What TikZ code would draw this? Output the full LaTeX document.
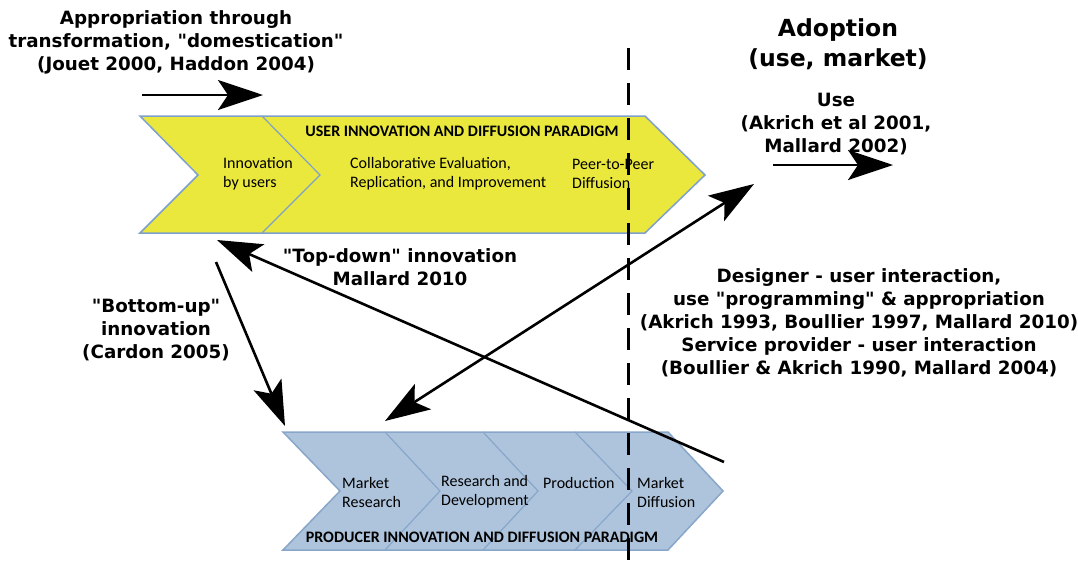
\documentclass[tikz,border=0pt]{standalone}
\usepackage{fontspec}
\setmainfont{DejaVu Sans}
\newfontfamily\labelfont{DejaVu Sans}
\newfontfamily\chevfont{Carlito}
\usetikzlibrary{arrows.meta}
\definecolor{yel}{RGB}{234,232,60}
\definecolor{yelb}{RGB}{128,160,204}
\definecolor{blu}{RGB}{174,196,220}
\definecolor{blub}{RGB}{136,166,202}
\begin{document}
\begin{tikzpicture}[x=1pt,y=-1pt,
  lbl/.style={font=\labelfont\fontsize{18.3}{23}\selectfont\bfseries, align=center, inner sep=0pt},
  big/.style={font=\labelfont\fontsize{23.5}{30}\selectfont\bfseries, align=center, inner sep=0pt},
  ctext/.style={font=\chevfont\fontsize{16}{19}\selectfont, align=left, inner sep=0pt, anchor=west},
  ctitle/.style={font=\chevfont\fontsize{16}{19}\selectfont\bfseries, inner sep=0pt},
  arr/.style={line width=2.6pt, -{Stealth[length=45pt,width=30pt,inset=10pt]}},
  darr/.style={line width=2.6pt, {Stealth[length=45pt,width=30pt,inset=10pt]}-{Stealth[length=45pt,width=30pt,inset=10pt]}},
  yband/.style={fill=yel, draw=yelb, line width=1.5pt, line join=miter},
  bband/.style={fill=blu, draw=blub, line width=1.5pt, line join=miter},
  divy/.style={draw=yelb, line width=1.2pt},
  divb/.style={draw=blub, line width=1.2pt},
  dline/.style={line width=3pt, dash pattern=on 22pt off 13pt}
]
\useasboundingbox (0,0) rectangle (1078,568);
\fill[white] (0,0) rectangle (1078,568);

% user band
\draw[yband] (140,116) -- (645,116) -- (705,175) -- (645,233) -- (140,233) -- (198,175) -- cycle;
\draw[divy] (262,116) -- (320,175) -- (262,233);
\node[ctitle] (utitle) at (462,131) {USER INNOVATION AND DIFFUSION PARADIGM};
\node[ctext] (u1) at (223,174) {Innovation\\by users};
\node[ctext] (u2) at (350,174) {Collaborative Evaluation,\\Replication, and Improvement};
\node[ctext] (u3) at (572,174) {Peer-to-Peer\\Diffusion};

% producer band
\draw[bband] (283,432) -- (668,432) -- (723,491) -- (668,550) -- (283,550) -- (340,491) -- cycle;
\draw[divb] (385,432) -- (440,491) -- (385,550);
\draw[divb] (483,432) -- (538,491) -- (483,550);
\draw[divb] (575,432) -- (632,491) -- (575,550);
\node[ctext] (p1) at (342,492) {Market\\Research};
\node[ctext] (p2) at (441,492) {Research and\\Development};
\node[ctext] (p3) at (543,483) {Production};
\node[ctext] (p4) at (637,492) {Market\\Diffusion};
\node[ctitle] (ptitle) at (482,537) {PRODUCER INNOVATION AND DIFFUSION PARADIGM};

% dashed divider
\coordinate (dtop) at (628,48);
\coordinate (dbot) at (628,568);
\draw[dline] (dtop) -- (dbot);

% labels
\node[lbl] (appr) at (176,42) {Appropriation through\\transformation, "domestication"\\(Jouet 2000, Haddon 2004)};
\node[big] (adop) at (838,44) {Adoption\\(use, market)};
\node[lbl] (use) at (836,124) {Use\\(Akrich et al 2001,\\Mallard 2002)};
\node[lbl] (topd) at (400,267) {"Top-down" innovation\\Mallard 2010};
\node[lbl] (botu) at (156,330) {"Bottom-up"\\innovation\\(Cardon 2005)};
\node[lbl] (desg) at (859,323) {Designer - user interaction,\\use "programming" \& appropriation\\(Akrich 1993, Boullier 1997, Mallard 2010)\\Service provider - user interaction\\(Boullier \& Akrich 1990, Mallard 2004)};

% arrows
\coordinate (a1s) at (142,95);
\coordinate (a1e) at (263,95);
\draw[arr] (a1s) -- (a1e);
\coordinate (a2s) at (773,165);
\coordinate (a2e) at (893,165);
\draw[arr] (a2s) -- (a2e);
\coordinate (a3s) at (385,421);
\coordinate (a3e) at (754,184);
\draw[darr] (a3s) -- (a3e);
\coordinate (a4s) at (724,462);
\coordinate (a4e) at (217,240);
\draw[arr] (a4s) -- (a4e);
\coordinate (a5s) at (216,262);
\coordinate (a5e) at (285,426);
\draw[arr] (a5s) -- (a5e);
\end{tikzpicture}
\end{document}
